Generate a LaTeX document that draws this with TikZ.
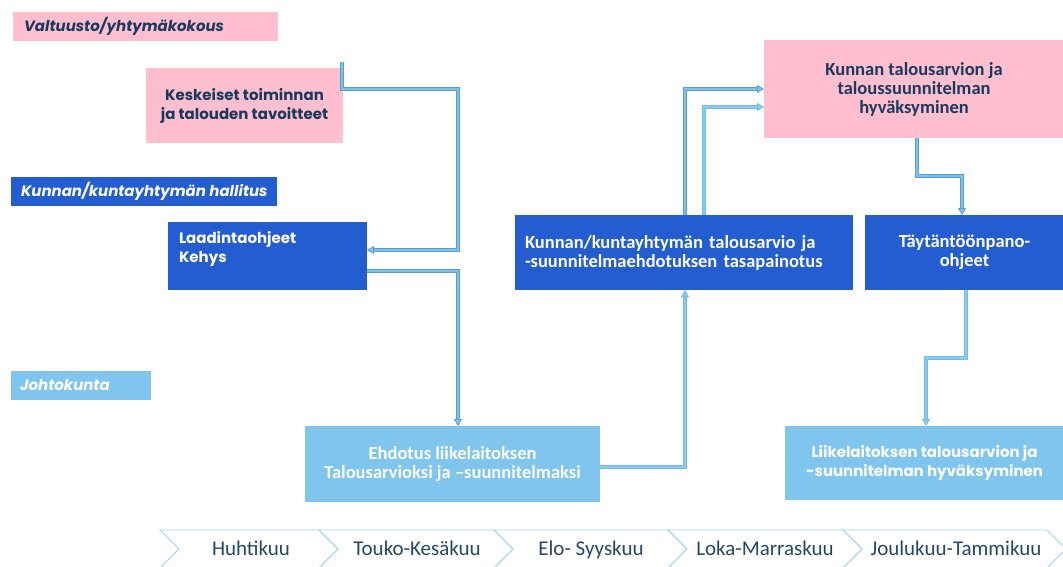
\documentclass[tikz,border=0pt]{standalone}
\usepackage{fontspec}
\setmainfont{Carlito}
\newfontfamily\wsfont{Poppins}
\usetikzlibrary{arrows.meta}
\definecolor{pinkc}{HTML}{FFBFCF}
\definecolor{bluec}{HTML}{245DCF}
\definecolor{lbluec}{HTML}{7FC5EE}
\definecolor{navyc}{HTML}{173A5E}
\definecolor{connd}{HTML}{5A9BD2}
\definecolor{connl}{HTML}{7DC3EC}
\definecolor{connbd}{HTML}{74BAE6}
\definecolor{connbl}{HTML}{88CCF0}
\definecolor{chevc}{HTML}{9CD3F3}
\definecolor{monthc}{HTML}{23476B}
\tikzset{
  boxbase/.style={rectangle, anchor=north west, inner ysep=0pt, outer sep=0pt},
  pinkfill/.style={fill=pinkc, text=navyc},
  bluefill/.style={fill=bluec, text=white},
  lbluefill/.style={fill=lbluec, text=white},
  headfont/.style={font=\wsfont\bfseries\itshape\fontsize{15}{18}\selectfont},
  heavyfont/.style={font=\wsfont\bfseries\fontsize{15}{19}\selectfont},
  condfont/.style={font=\bfseries\fontsize{18.5}{19}\selectfont},
  monthfont/.style={font=\fontsize{21}{24}\selectfont, text=monthc, anchor=base},
  connA/.style={draw=connd, double=connl, double distance=1.6pt, line width=0.8pt,
    -{Triangle[length=7pt,width=8pt,fill=connl]}},
  connB/.style={draw=connbd, double=connbl, double distance=1.6pt, line width=0.8pt,
    -{Triangle[length=7pt,width=8pt,fill=connbl]}},
  chev/.style={draw=chevc, line width=0.9pt},
}
\begin{document}
\begin{tikzpicture}[x=1pt,y=-1pt]
\useasboundingbox (0,0) rectangle (1063,566);

% lane headings
\node[boxbase, pinkfill, headfont, minimum height=29pt, inner xsep=11pt]
  (valt) at (13,12) {\makebox[243pt][l]{Valtuusto/yhtymäkokous}};
\node[boxbase, bluefill, headfont, minimum height=29pt, inner xsep=10pt]
  (hall) at (11,177) {\makebox[246pt][l]{Kunnan/kuntayhtymän hallitus}};
\node[boxbase, lbluefill, headfont, minimum height=29pt, inner xsep=9pt]
  (johto) at (11,371) {\makebox[122pt][l]{Johtokunta}};

% process boxes
\node[boxbase, pinkfill, heavyfont, minimum width=197pt, minimum height=75pt, align=center]
  (kesk) at (146,68) {Keskeiset toiminnan\\ja talouden tavoitteet};
\node[boxbase, bluefill, heavyfont, inner xsep=11pt]
  (laad) at (168,222) {\parbox[c][68pt][t]{177pt}{\vspace*{9pt}Laadintaohjeet\\Kehys}};
\node[boxbase, lbluefill, condfont, minimum width=295pt, minimum height=76pt, align=center]
  (ehd) at (305,426) {Ehdotus liikelaitoksen\\Talousarvioksi ja –suunnitelmaksi};
\node[boxbase, bluefill, condfont, minimum width=338pt, minimum height=75pt,
  text width=318pt, inner xsep=10pt, align=left]
  (kta) at (515,215) {Kunnan/kuntayhtymän talousarvio ja\\-suunnitelmaehdotuksen tasapainotus};
\node[boxbase, pinkfill, condfont, minimum width=300pt, minimum height=98pt, align=center]
  (khyv) at (764,40) {Kunnan talousarvion ja\\taloussuunnitelman\\hyväksyminen};
\node[boxbase, bluefill, condfont, minimum width=199pt, minimum height=75pt, align=center]
  (tayt) at (865,215) {Täytäntöönpano-\\ohjeet};
\node[boxbase, lbluefill, heavyfont, minimum width=279pt, minimum height=74pt, align=center]
  (liik) at (785,426) {Liikelaitoksen talousarvion ja\\-suunnitelman hyväksyminen};

% connectors
\coordinate (k1) at (342,62);
\draw[connA] (k1) -- (342,89) -- (458,89) -- (458,250) -- (laad.east |- 0,250);
\draw[connA] (laad.east |- 0,271) -- (458,271) -- (458,0 |- ehd.north);
\draw[connB] (ehd.east |- 0,467) -- (685,467) -- (685,0 |- kta.south);
\draw[connA] (685,0 |- kta.north) -- (685,89) -- (khyv.west |- 0,89);
\draw[connB] (704,0 |- kta.north) -- (704,107) -- (khyv.west |- 0,107);
\draw[connA] (917,0 |- khyv.south) -- (917,176) -- (962,176) -- (962,0 |- tayt.north);
\draw[connB] (966,0 |- tayt.south) -- (966,358) -- (926,358) -- (926,0 |- liik.north);

% timeline chevrons
\foreach \l/\r in {160/319, 319/494, 494/668, 668/843, 843/1047}{
  \draw[chev] (\l,530) -- (\r,530) -- (\r+19,549) -- (\r,568) -- (\l,568) -- (\l+19,549) -- cycle;
}
\node[monthfont] (m1) at (251,555) {Huhtikuu};
\node[monthfont] (m2) at (417,555) {Touko-Kesäkuu};
\node[monthfont] (m3) at (591,555) {Elo- Syyskuu};
\node[monthfont] (m4) at (765,555) {Loka-Marraskuu};
\node[monthfont] (m5) at (956,555) {Joulukuu-Tammikuu};
\end{tikzpicture}
\end{document}
